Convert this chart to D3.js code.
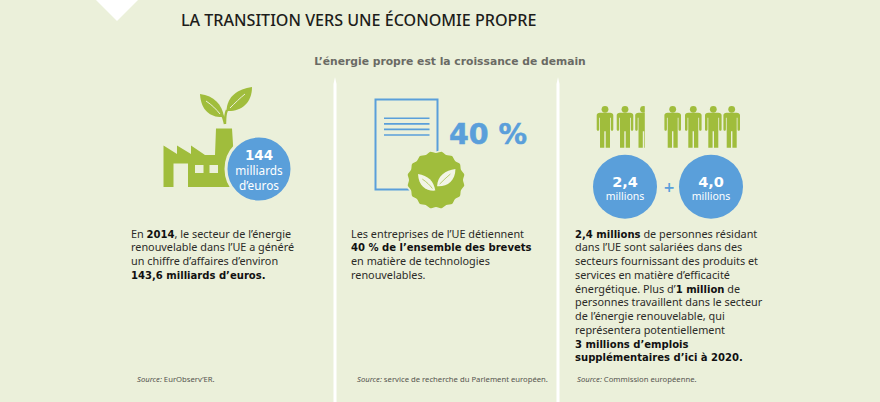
<!DOCTYPE html>
<html><head><meta charset="utf-8">
<script src="https://cdn.jsdelivr.net/npm/d3@7"></script>
<style>html,body{margin:0;padding:0;background:#ebf0da}svg{display:block}</style>
</head><body><svg id="c" width="880" height="402"></svg>
<script>
const titleText = "LA TRANSITION VERS UNE ÉCONOMIE PROPRE";
const subtitleText = "L’énergie propre est la croissance de demain";
const percentLabel = "40 %";
const turnoverLabels = ["144", "milliards", "d’euros"];
const jobValues = [2.4, 4.0];
const jobUnit = "millions";
const peopleGroups = [3, 4];
const sources = ["EurObserv’ER.", "service de recherche du Parlement européen.", "Commission européenne."];
const para1 = [[["En ",0],["2014",1],[", le secteur de l’énergie",0]],[["renouvelable dans l’UE a généré",0]],[["un chiffre d’affaires d’environ",0]],[["143,6 milliards d’euros.",1]]];
const para2 = [[["Les entreprises de l’UE détiennent",0]],[["40 % de l’ensemble des brevets",1]],[["en matière de technologies",0]],[["renouvelables.",0]]];
const para3 = [[["2,4 millions",1],[" de personnes résidant",0]],[["dans l’UE sont salariées dans des",0]],[["secteurs fournissant des produits et",0]],[["services en matière d’efficacité",0]],[["énergétique. Plus d’",0],["1 million",1],[" de",0]],[["personnes travaillent dans le secteur",0]],[["de l’énergie renouvelable, qui",0]],[["représentera potentiellement",0]],[["3 millions d’emplois",1]],[["supplémentaires d’ici à 2020.",1]]];

const BG="#ebf0da", GREEN="#a0bd3c", BLUE="#5a9fda", INK="#1d1d1b";
const SANS="'Noto Sans',sans-serif", BOLD="'DejaVu Sans',sans-serif";
const svg=d3.select("#c");
svg.append("rect").attr("width",880).attr("height",402).attr("fill",BG);
svg.append("path").attr("d","M96,0L117,21L138,0Z").attr("fill","#fff");
[335,558].forEach(x=>svg.append("path").attr("d",`M${x-1.5},402V84L${x},77L${x+1.5},84V402Z`).attr("fill","#fff"));

svg.append("text").text(titleText).attr("x",181).attr("y",26).attr("font-family",SANS).attr("font-size",16.1).attr("font-weight",500).attr("fill",INK);
svg.append("text").text(subtitleText).attr("x",450).attr("y",65).attr("text-anchor","middle").attr("font-family",BOLD).attr("font-weight",700).attr("font-size",10.75).attr("fill","#6a6a64");

function para(x,y,lines){
  const yS=d3.scaleLinear().domain([0,1]).range([y,y+13.75]);
  lines.forEach((segs,i)=>{
    const t=svg.append("text").attr("x",x).attr("y",yS(i)).attr("font-family",SANS).attr("font-size",10.85).attr("fill","#2b2b28").style("white-space","pre");
    segs.forEach(([s,b])=>t.append("tspan").text(s).attr("font-family",b?BOLD:SANS).attr("font-weight",b?700:400).attr("font-size",b?10.05:10.85).attr("fill",b?"#111":"#2b2b28"));
  });
}
para(131,237.5,para1);para(351,237.5,para2);para(575,237.5,para3);

[[137,0],[357,1],[577,2]].forEach(([x,i])=>{
  const t=svg.append("text").attr("x",x).attr("y",381.5).attr("font-family",SANS).attr("font-size",7.7).attr("fill","#55554f").style("white-space","pre");
  t.append("tspan").text("Source:").attr("font-style","italic");
  t.append("tspan").text(" "+sources[i]);
});

// leaf pair drawn around the base of the stem
function leafPair(transform,color,vein,stem){
  const g=svg.append("g").attr("transform",transform);
  g.append("path").attr("fill",color).attr("d","M-25,-18C-11,-16 -3,-8 -1,5C-13,6 -24,0 -25,-18Z");
  g.append("path").attr("fill",color).attr("d","M27,-25C13,-23 2,-16 1.5,-1C15,0 27,-8 27,-25Z");
  g.append("path").attr("fill","none").attr("stroke",vein).attr("stroke-width",1).attr("d","M-19,-11C-13,-7 -9,-3 -5,2");
  g.append("path").attr("fill","none").attr("stroke",vein).attr("stroke-width",1).attr("d","M20,-18C15,-14 10,-9 5,-4");
  if(stem) g.append("path").attr("fill","none").attr("stroke",color).attr("stroke-width",2.4).attr("d","M0,12C0,6 0,2 2,-2M0,12C-1,8 -1,6 -3,3");
}
// factory
svg.append("path").attr("fill",GREEN).attr("fill-rule","evenodd").attr("d",
 "M163.5,145.5L177,154V145.5L191,154V145.5L205,155H215L216,128.5H232L234,160L230,187H188V163.5H173.5V187H163.5Z"+
 "M195,165H203.5V173H195ZM209.5,165H218V173H209.5Z");
leafPair("translate(225,112)",GREEN,BG,true);

const bubble=(cx,cy,r)=>svg.append("circle").attr("cx",cx).attr("cy",cy).attr("r",r).attr("fill",BLUE).attr("stroke",BG).attr("stroke-width",3);
bubble(259,169,33);
const ct=(x,y,s,size,b)=>svg.append("text").text(s).attr("x",x).attr("y",y).attr("text-anchor","middle").attr("fill","#fff").attr("font-family",b?BOLD:SANS).attr("font-weight",b?700:400).attr("font-size",size);
ct(259,159.5,turnoverLabels[0],13.5,1);ct(259,174.5,turnoverLabels[1],11.8,0);ct(259,189.5,turnoverLabels[2],11.8,0);

// document
svg.append("rect").attr("x",375.5).attr("y",99.5).attr("width",62).attr("height",90).attr("fill","none").attr("stroke",BLUE).attr("stroke-width",2);
d3.range(4).forEach(i=>svg.append("line").attr("x1",384).attr("x2",429.5).attr("y1",118.3+i*5.55).attr("y2",118.3+i*5.55).attr("stroke",BLUE).attr("stroke-width",1.6));
svg.append("text").text(percentLabel).attr("x",449).attr("y",143.5).attr("font-family",BOLD).attr("font-weight",700).attr("font-size",28.5).attr("fill",BLUE).attr("stroke",BLUE).attr("stroke-width",.5);
// badge
const badge=d3.lineRadial().curve(d3.curveCardinalClosed).angle((d,i)=>i*Math.PI/16).radius((d,i)=>i%2?29.6:27.8);
svg.append("path").attr("d",badge(d3.range(32))).attr("transform","translate(436,180)").attr("fill",GREEN).attr("stroke",BG).attr("stroke-width",1.6);
leafPair("translate(436,187) scale(.72)","#f2f5e6",GREEN,false);

// people
const person="M-8.3,6C-8.3,4.5 -7,3.5 -5,3.5H5C7,3.5 8.3,4.5 8.3,6V20C8.3,22 5.8,22 5.8,20V8.5H5V38.5H.7V22H-.7V38.5H-5V8.5H-5.8V20C-5.8,22 -8.3,22 -8.3,20Z";
const xs=[605,625,643.5,672.7,693.3,713.3,731.7];
const pg=svg.append("g").attr("clip-path","url(#cut2)");
const cp2=svg.append("clipPath").attr("id","cut2");cp2.append("rect").attr("x",590).attr("y",100).attr("width",54.8).attr("height",60);cp2.append("rect").attr("x",660).attr("y",100).attr("width",90).attr("height",60);
xs.slice(0,d3.sum(peopleGroups)).forEach(x=>{
  const g=pg.append("g").attr("transform",`translate(${x},109.3)`).attr("fill",GREEN);
  g.append("circle").attr("r",3.4);g.append("path").attr("d",person);
});
const jobX=[625,711], jobY=186.7;
jobValues.forEach((v,i)=>{
  svg.append("circle").attr("cx",jobX[i]).attr("cy",jobY).attr("r",32).attr("fill",BLUE);
  ct(jobX[i],187,d3.format(".1f")(v).replace(".",","),14.5,1);
  ct(jobX[i],200,jobUnit,10.5,0);
});
svg.append("text").text("+").attr("x",669).attr("y",192).attr("text-anchor","middle").attr("font-family",BOLD).attr("font-weight",700).attr("font-size",14).attr("fill",BLUE);
</script></body></html>
